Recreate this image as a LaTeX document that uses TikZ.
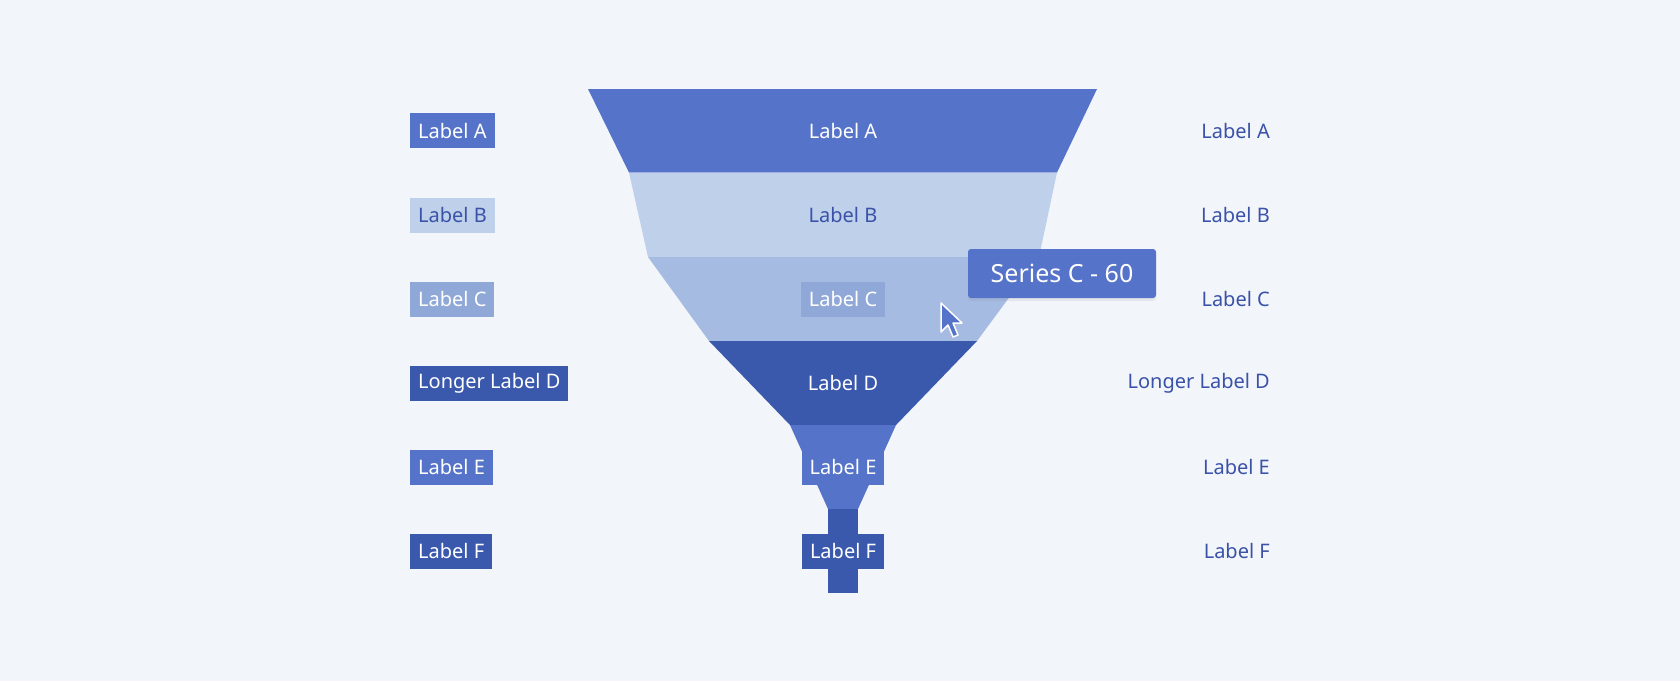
\documentclass[tikz,border=0pt]{standalone}
\usepackage{fontspec}
\setmainfont{Noto Sans}
\usetikzlibrary{shadows}
\definecolor{bgc}{HTML}{F2F5FA}
\definecolor{segA}{HTML}{5573C8}
\definecolor{segB}{HTML}{BFD0EB}
\definecolor{segC}{HTML}{A6BBE2}
\definecolor{segD}{HTML}{3A59AD}
\definecolor{boxC}{HTML}{8FA8D8}
\definecolor{txtblue}{HTML}{3A52A8}
\tikzset{
  lbl/.style={font=\fontsize{20}{24}\selectfont,inner sep=0pt},
  lbox/.style={lbl,anchor=west,minimum height=35pt,inner xsep=8pt,text=white},
  rlbl/.style={lbl,anchor=east,text=txtblue},
}
\begin{document}
\begin{tikzpicture}[x=1pt,y=-1pt]
\fill[bgc] (0,0) rectangle (1680,681);
\useasboundingbox (0,0) rectangle (1680,681);
%% funnel
\fill[segA] (588,89) -- (1097,89) -- (1057,172.5) -- (629,172.5) -- cycle;
\fill[segB] (629,172.5) -- (1057,172.5) -- (1039,257) -- (648,257) -- cycle;
\fill[segC] (648,257) -- (1039,257) -- (977,341) -- (709,341) -- cycle;
\fill[segD] (709,341) -- (977,341) -- (896,425) -- (790,425) -- cycle;
\fill[segA] (790,425) -- (896,425) -- (858,509) -- (828,509) -- cycle;
\fill[segD] (828,509) rectangle (858,592.5);
%% centre labels
\node (cA) at (843,130.5) [lbl,text=white] {Label A};
\node (cB) at (843,215) [lbl,text=txtblue] {Label B};
\node (cC) at (843,299) [lbl,text=white,fill=boxC,minimum height=35pt,inner xsep=8pt] {Label C};
\node (cD) at (843,383) [lbl,text=white] {Label D};
\node (cE) at (843,467) [lbl,text=white,fill=segA,minimum height=35pt,inner xsep=8pt] {Label E};
\node (cF) at (843,551) [lbl,text=white,fill=segD,minimum height=35pt,inner xsep=8pt] {Label F};
%% left labels
\node (lA) at (410,130.5) [lbox,fill=segA] {Label A};
\node (lB) at (410,215) [lbox,fill=segB,text=txtblue] {Label B};
\node (lC) at (410,299) [lbox,fill=boxC] {Label C};
\node (lD) at (410,383) [lbox,fill=segD] {Longer Label D};
\node (lE) at (410,467) [lbox,fill=segA] {Label E};
\node (lF) at (410,551) [lbox,fill=segD] {Label F};
%% right labels
\node (rA) at (1270,130.5) [rlbl] {Label A};
\node (rB) at (1270,215) [rlbl] {Label B};
\node (rC) at (1270,299) [rlbl] {Label C};
\node (rD) at (1270,383) [rlbl] {Longer Label D};
\node (rE) at (1270,467) [rlbl] {Label E};
\node (rF) at (1270,551) [rlbl] {Label F};
%% tooltip
\node (tip) at (1062,273.5) [lbl,font=\fontsize{25}{30}\selectfont,text=white,fill=segA,rounded corners=3pt,
  minimum width=188pt,minimum height=49pt,drop shadow={opacity=0.12,shadow xshift=0pt,shadow yshift=-3pt}] {Series C - 60};
%% cursor
\draw[white,line width=1.5pt,fill=segA,line join=round]
  (941,303) -- (941,332) -- (948,325) -- (953,337) -- (958,335) -- (953,323) -- (962,323) -- cycle;
\end{tikzpicture}
\end{document}
